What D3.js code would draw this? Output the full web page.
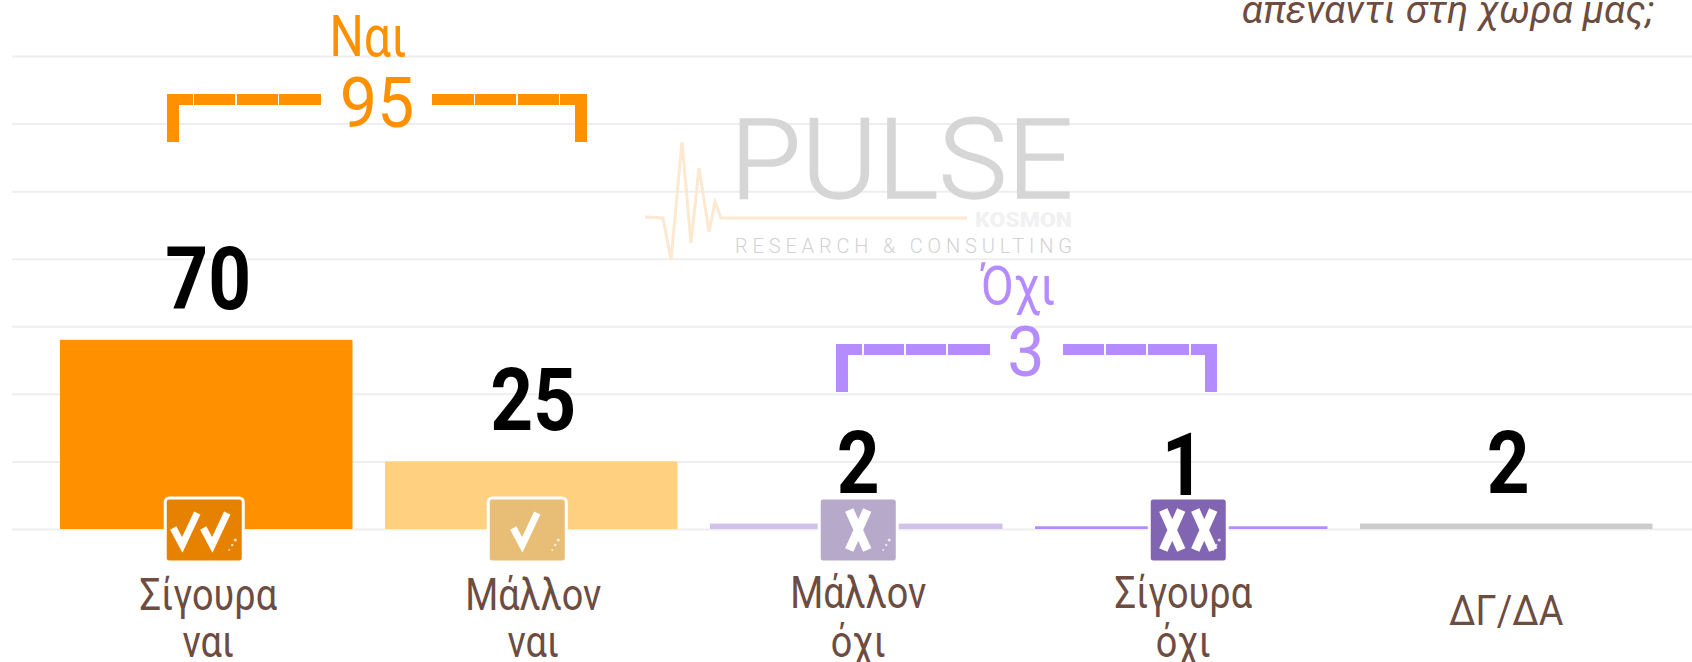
<!DOCTYPE html>
<html>
<head>
<meta charset="utf-8">
<script src="https://cdn.jsdelivr.net/npm/d3@7"></script>
<style>
  html, body { margin: 0; padding: 0; background: #fff; overflow: hidden; }
  text { font-family: Roboto, sans-serif; }
</style>
</head>
<body>
<div id="chart"></div>
<script>
// Values
const categories = ["Σίγουρα ναι", "Μάλλον ναι", "Μάλλον όχι", "Σίγουρα όχι", "ΔΓ/ΔΑ"];
const labelLines = [["Σίγουρα", "ναι"], ["Μάλλον", "ναι"], ["Μάλλον", "όχι"], ["Σίγουρα", "όχι"], ["ΔΓ/ΔΑ"]];
const values = [70, 25, 2, 1, 2];
const barColors = ["#ff9000", "#ffd080", "#d0c2ea", "#b48cff", "#cccccc"];
const gridTicks = [0, 25, 50, 75, 100, 125, 150, 175];
const groupLabels = ["Ναι", "Όχι"];
const groupTotals = [95, 3];
const questionTail = "απέναντι στη χώρα μας;";

const width = 1692, height = 662;
const brown = "#6d4c41";

const svg = d3.select("#chart").append("svg")
    .attr("width", width)
    .attr("height", height)
    .style("display", "block");

const x = d3.scaleBand()
    .domain(categories)
    .range([43.75, 1668.75])
    .paddingInner(0.1)
    .paddingOuter(0.05);

const y = d3.scaleLinear().domain([0, 175]).range([529, 56]);

// Texte étroit : Roboto compressé en largeur
function label(parent, str, px, py, size, sx, fill, weight, style) {
    return parent.append("text")
        .attr("transform", `translate(${px},${py}) scale(${sx},1)`)
        .attr("text-anchor", "middle")
        .attr("font-size", size)
        .attr("font-weight", weight || 400)
        .attr("font-style", style || "normal")
        .attr("fill", fill)
        .text(str);
}

// Grille
const grid = svg.append("g")
    .attr("transform", "translate(12,0)")
    .call(d3.axisLeft(y).tickValues(gridTicks).tickSize(-1680).tickFormat(""));
grid.select(".domain").remove();
grid.selectAll("line").attr("stroke", "#eeeeee").attr("stroke-width", 2);

// Logo en filigrane
const logo = svg.append("g");
logo.append("path")
    .attr("d", d3.line()([[645, 217], [663, 218], [671, 260], [682, 142], [691, 243], [699, 168], [709, 232], [715, 202], [721, 218], [967, 218]]))
    .attr("fill", "none")
    .attr("stroke", "#fde8d0")
    .attr("stroke-width", 3);
logo.append("text")
    .attr("x", 730).attr("y", 198)
    .attr("font-family", "Lato, sans-serif")
    .attr("font-weight", 300)
    .attr("font-size", 111)
    .attr("textLength", 343)
    .attr("lengthAdjust", "spacingAndGlyphs")
    .attr("fill", "#d6d6d6")
    .attr("stroke", "#d6d6d6")
    .attr("stroke-width", 1.5)
    .text("PULSE");
logo.append("text")
    .attr("x", 975).attr("y", 227)
    .attr("font-family", "Roboto, sans-serif")
    .attr("font-weight", 900)
    .attr("font-size", 20)
    .attr("textLength", 97)
    .attr("lengthAdjust", "spacingAndGlyphs")
    .attr("fill", "#f1f1f1")
    .text("KOSMON");
logo.append("text")
    .attr("x", 735).attr("y", 253)
    .attr("font-family", "Lato, sans-serif")
    .attr("font-weight", 300)
    .attr("font-size", 20)
    .attr("textLength", 337)
    .attr("lengthAdjust", "spacing")
    .attr("fill", "#d2d2d2")
    .text("RESEARCH & CONSULTING");

// Barres
svg.selectAll("rect.bar")
    .data(categories)
    .enter().append("rect")
    .attr("class", "bar")
    .attr("x", d => x(d))
    .attr("width", x.bandwidth())
    .attr("y", (d, i) => y(values[i]))
    .attr("height", (d, i) => y(0) - y(values[i]))
    .attr("fill", (d, i) => barColors[i]);

// Valeurs au-dessus des barres
categories.forEach((d, i) => {
    label(svg, values[i], x(d) + x.bandwidth() / 2 + 2, y(values[i]) - 31, 88, 0.85, "#000", 700);
});

// Libellés des catégories
categories.forEach((d, i) => {
    const cx = x(d) + x.bandwidth() / 2 + 1;
    const lines = labelLines[i];
    if (lines.length === 1) {
        label(svg, lines[0], cx - 1, 625, 42, 0.9, brown);
    } else {
        label(svg, lines[0], cx + 1, i === 0 || i === 1 ? 610 : 608, 44, 0.86, brown);
        label(svg, lines[1], cx + 1, 657, 44, 0.86, brown);
    }
});

// Icônes vote
const icons = [
    { cat: 0, dx: -2, fill: "#e68200", border: true, kind: "check", marks: [-20, 10] },
    { cat: 1, dx: -4, fill: "#e8bd75", border: true, kind: "check", marks: [-3] },
    { cat: 2, dx: 2, fill: "#b6a9ca", border: false, kind: "cross", marks: [0] },
    { cat: 3, dx: 7, fill: "#8164b2", border: false, kind: "cross", marks: [-16, 16] }
];
icons.forEach(ic => {
    const cx = x(categories[ic.cat]) + x.bandwidth() / 2 + ic.dx;
    const g = svg.append("g").attr("transform", `translate(${cx},498)`);
    g.append("rect")
        .attr("x", -39).attr("width", 78)
        .attr("y", 0).attr("height", 64)
        .attr("rx", 4)
        .attr("fill", ic.fill)
        .attr("stroke", "#fff")
        .attr("stroke-width", 3);
    ic.marks.forEach(m => {
        if (ic.kind === "check") {
            g.append("path")
                .attr("d", d3.line()([[m - 11, 30], [m - 2, 47], [m + 13, 15]]))
                .attr("fill", "none")
                .attr("stroke", "#fff")
                .attr("stroke-width", 7);
        } else {
            g.append("path")
                .attr("d", "M" + (m - 9) + ",12L" + (m + 9) + ",52M" + (m + 9) + ",12L" + (m - 9) + ",52")
                .attr("fill", "none")
                .attr("stroke", "#fff")
                .attr("stroke-width", 9);
        }
    });
    // petites taches en bas à droite
    [[31, 42, 1.6], [28, 47, 1.2], [25, 52, 1]].forEach(p => {
        g.append("circle")
            .attr("cx", p[0]).attr("cy", p[1]).attr("r", p[2])
            .attr("fill", "#fff").attr("opacity", 0.75);
    });
});

// Accolades de regroupement
function bracket(color, top, bottom, thick, left, right, leftSegs, rightSegs) {
    const g = svg.append("g").attr("fill", color);
    leftSegs.concat(rightSegs).forEach(s => {
        g.append("rect").attr("x", s[0]).attr("y", top).attr("width", s[1] - s[0]).attr("height", thick);
    });
    g.append("rect").attr("x", left).attr("y", top).attr("width", thick + 1).attr("height", bottom - top);
    g.append("rect").attr("x", right - thick - 1).attr("y", top).attr("width", thick + 1).attr("height", bottom - top);
}
bracket("#ff9000", 94, 142, 11, 167, 587,
    [[167, 193], [194, 235], [237, 278], [279, 321]],
    [[432, 474], [475, 516], [518, 559], [560, 587]]);
bracket("#b48cff", 344, 392, 11, 836, 1217,
    [[836, 862], [864, 904], [906, 946], [948, 990]],
    [[1063, 1104], [1106, 1146], [1148, 1189], [1191, 1217]]);

label(svg, groupLabels[0], 368, 56, 58, 0.83, "#ff9000", 400);
label(svg, groupTotals[0], 377, 127, 70, 0.95, "#ff9000", 400);
label(svg, groupLabels[1], 1018, 304, 54, 0.88, "#b48cff", 400);
label(svg, groupTotals[1], 1026, 376, 70, 0.95, "#b48cff", 400);

// Fin de la question, coupée en haut de l'image
svg.append("text")
    .attr("x", 1654).attr("y", 23)
    .attr("text-anchor", "end")
    .attr("font-size", 39)
    .attr("font-style", "italic")
    .attr("fill", brown)
    .text(questionTail);
</script>
</body>
</html>
